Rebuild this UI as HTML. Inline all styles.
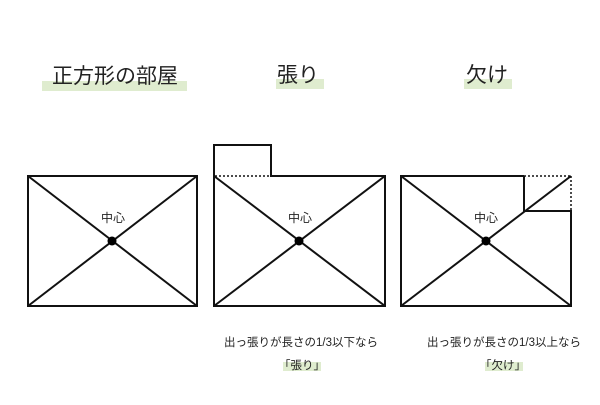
<!DOCTYPE html>
<html><head><meta charset="utf-8"><style>
body{margin:0;background:#fff;}
svg text{font-family:"Liberation Sans","Noto Sans CJK JP",sans-serif;fill:#222;}
</style></head><body>
<svg width="600" height="400" viewBox="0 0 600 400" xmlns="http://www.w3.org/2000/svg">
<rect x="0" y="0" width="600" height="400" fill="#fff"/>
<rect x="42" y="81" width="145" height="10" fill="#dfeccf"/>
<rect x="276" y="79" width="48" height="10" fill="#dfeccf"/>
<rect x="464" y="79" width="48" height="10" fill="#dfeccf"/>
<text x="115" y="83" font-size="21" text-anchor="middle">正方形の部屋</text>
<text x="298" y="82" font-size="21" text-anchor="middle">張り</text>
<text x="487" y="82" font-size="21" text-anchor="middle">欠け</text>

<g stroke="#111" stroke-width="2" fill="none">
<rect x="28" y="176" width="169" height="130"/>
<line x1="28" y1="176" x2="197" y2="306"/>
<line x1="28" y1="306" x2="197" y2="176"/>
<polyline points="214,176 214,145 271,145 271,176 385,176 385,306 214,306 214,176"/>
<line x1="214" y1="176" x2="385" y2="306"/>
<line x1="214" y1="306" x2="385" y2="176"/>
<polyline points="524,176 401,176 401,306 571,306 571,211 524,211 524,176"/>
<line x1="401" y1="176" x2="571" y2="306"/>
<line x1="401" y1="306" x2="571" y2="176"/>
</g>
<g stroke="#111" stroke-width="1.5" stroke-dasharray="2,2" fill="none">
<line x1="215" y1="176" x2="271" y2="176"/>
<line x1="524" y1="176" x2="571" y2="176"/>
<line x1="571" y1="176" x2="571" y2="211"/>
</g>
<circle cx="112" cy="241" r="4.5" fill="#000"/>
<circle cx="299" cy="241" r="4.5" fill="#000"/>
<circle cx="486" cy="241" r="4.5" fill="#000"/>
<text x="113" y="222" font-size="12" text-anchor="middle">中心</text>
<text x="300" y="222" font-size="12" text-anchor="middle">中心</text>
<text x="486" y="222" font-size="12" text-anchor="middle">中心</text>

<text x="301" y="346" font-size="11.5" text-anchor="middle">出っ張りが長さの1/3以下なら</text>
<text x="504" y="346" font-size="11.5" text-anchor="middle">出っ張りが長さの1/3以上なら</text>
<rect x="283" y="362" width="38" height="9" fill="#dfeccf"/>
<rect x="485" y="362" width="38" height="9" fill="#dfeccf"/>
<text x="302" y="369" font-size="11.5" text-anchor="middle">「張り」</text>
<text x="503" y="369" font-size="11.5" text-anchor="middle">「欠け」</text>
</svg>
</body></html>
